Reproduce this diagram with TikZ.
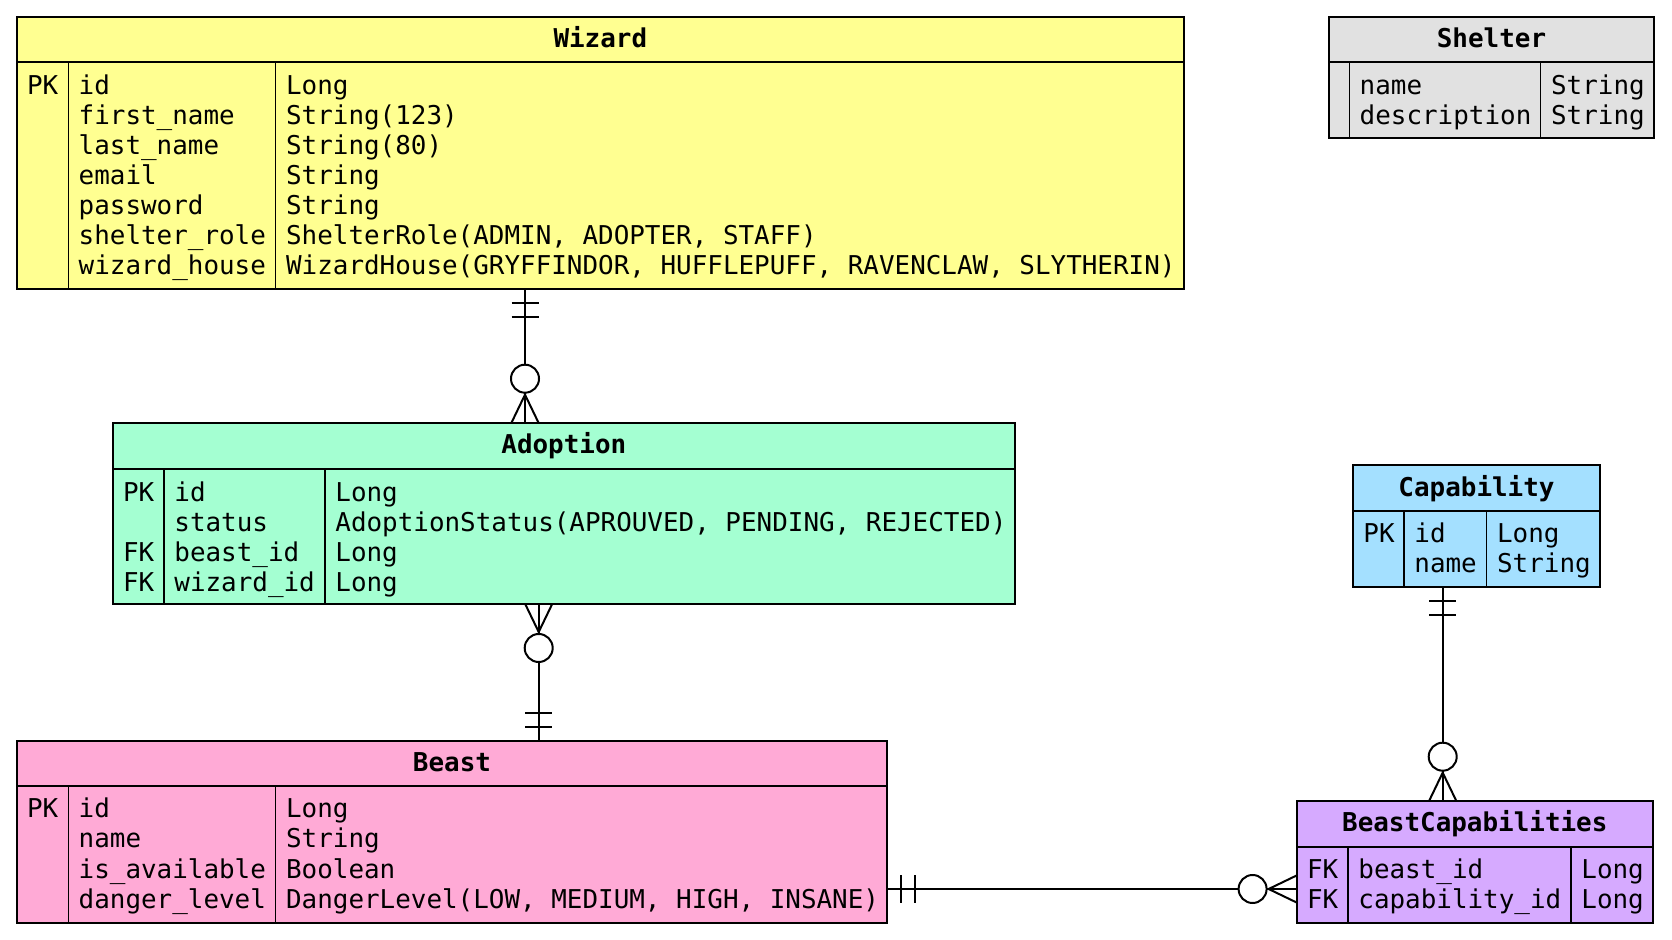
\documentclass[tikz,border=0pt]{standalone}
\usepackage{fontspec}
\newfontfamily\ermono{DejaVu Sans Mono}
\usetikzlibrary{fit,calc}

\definecolor{wizardfill}{HTML}{FFFF91}
\definecolor{adoptionfill}{HTML}{A4FFD2}
\definecolor{beastfill}{HTML}{FFAAD6}
\definecolor{capabilityfill}{HTML}{A4E0FF}
\definecolor{beastcapfill}{HTML}{D6AAFF}
\definecolor{shelterfill}{HTML}{E1E1E1}

\tikzset{
  erbox/.style={draw=black, line width=1pt, inner sep=0pt, outer sep=0pt},
  colline/.style={draw=black, line width=0.6pt},
  hdline/.style={draw=black, line width=1pt},
  cell/.style={inner sep=0pt, anchor=base west, font=\ermono\fontsize{12.96}{15}\selectfont},
  ertitle/.style={inner sep=0pt, anchor=base, font=\ermono\bfseries\fontsize{12.96}{15}\selectfont},
  rel/.style={draw=black, line width=1pt},
}

% entity box: #1 name, #2 fill, #3 left, #4 top, #5 key column right,
% #6 name column right, #7 right, #8 header bottom, #9 bottom
\newcommand{\erentity}[9]{%
  \node[erbox, fill=#2, fit={(#3,#4) (#7,#9)}] (#1) {};
  \draw[hdline] (#3,#8) -- (#7,#8);
  \draw[colline] (#5,#8) -- (#5,#9);
  \draw[colline] (#6,#8) -- (#6,#9);
}
% one column of cells: #1 name prefix, #2 x, #3 first baseline, #4 entries
\newcommand{\ercol}[4]{%
  \foreach \t [count=\i from 0] in {#4}
    \node[cell] (#1-\i) at (#2,{#3+30*\i}) {\t};
}
% "exactly one" bars on a vertical connector: #1 edge point, #2 +1 down / -1 up
\newcommand{\barsV}[2]{%
  \draw[rel] ($(#1)+(-13.5,14*#2)$) -- ++(27,0);
  \draw[rel] ($(#1)+(-13.5,28*#2)$) -- ++(27,0);
}
% "zero or many" crow's foot on a vertical connector
\newcommand{\crowV}[2]{%
  \draw[rel] ($(#1)+(-13.5,0)$) -- ($(#1)+(0,28*#2)$) -- ($(#1)+(13.5,0)$);
  \draw[rel, fill=white] ($(#1)+(0,44*#2)$) circle[radius=7pt];
}
% horizontal versions: #2 +1 right / -1 left
\newcommand{\barsH}[2]{%
  \draw[rel] ($(#1)+(14*#2,-13.5)$) -- ++(0,27);
  \draw[rel] ($(#1)+(28*#2,-13.5)$) -- ++(0,27);
}
\newcommand{\crowH}[2]{%
  \draw[rel] ($(#1)+(0,-13.5)$) -- ($(#1)+(28*#2,0)$) -- ($(#1)+(0,13.5)$);
  \draw[rel, fill=white] ($(#1)+(44*#2,0)$) circle[radius=7pt];
}

\begin{document}
\begin{tikzpicture}[x=0.5pt, y=-0.5pt]
\useasboundingbox (0,0) rectangle (1672,940);

% ---------- connectors (drawn first, boxes cover their ends) ----------
\coordinate (xwa) at (525,0);
\coordinate (xab) at (538.7,0);
\coordinate (xcb) at (1442.7,0);
\coordinate (ybb) at (0,889);

% ---------- Wizard ----------
\erentity{wizard}{wizardfill}{16.7}{16.7}{68.3}{275.7}{1184}{62.3}{288.7}
\node[ertitle] (wizard-title) at ({(16.7+1184)/2},48) {Wizard};
\ercol{wizard-k}{26.7}{94.3}{PK}
\ercol{wizard-n}{78.3}{94.3}{id,first\_name,last\_name,email,password,shelter\_role,wizard\_house}
\ercol{wizard-t}{285.7}{94.3}{Long,String(123),String(80),String,String,{ShelterRole(ADMIN, ADOPTER, STAFF)},{WizardHouse(GRYFFINDOR, HUFFLEPUFF, RAVENCLAW, SLYTHERIN)}}

% ---------- Shelter ----------
\erentity{shelter}{shelterfill}{1329}{16.7}{1349.3}{1540.7}{1654}{62.3}{138.3}
\node[ertitle] (shelter-title) at ({(1329+1654)/2},48) {Shelter};
\ercol{shelter-n}{1359.3}{94.3}{name,description}
\ercol{shelter-t}{1550.7}{94.3}{String,String}

% ---------- Adoption ----------
\erentity{adoption}{adoptionfill}{112.7}{422.7}{164}{325}{1015}{469.3}{604}
\node[ertitle] (adoption-title) at ({(112.7+1015)/2},454) {Adoption};
\ercol{adoption-k}{122.7}{501.3}{PK,{},FK,FK}
\ercol{adoption-n}{174}{501.3}{id,status,beast\_id,wizard\_id}
\ercol{adoption-t}{335}{501.3}{Long,{AdoptionStatus(APROUVED, PENDING, REJECTED)},Long,Long}

% ---------- Capability ----------
\erentity{capability}{capabilityfill}{1353}{465}{1404}{1486.7}{1600}{511}{586.7}
\node[ertitle] (capability-title) at ({(1353+1600)/2},496.5) {Capability};
\ercol{capability-k}{1363}{543}{PK}
\ercol{capability-n}{1414}{543}{id,name}
\ercol{capability-t}{1496.7}{543}{Long,String}

% ---------- Beast ----------
\erentity{beast}{beastfill}{16.7}{741}{68.3}{275.7}{887.3}{786}{922.7}
\node[ertitle] (beast-title) at ({(16.7+887.3)/2},772) {Beast};
\ercol{beast-k}{26.7}{818}{PK}
\ercol{beast-n}{78.3}{818}{id,name,is\_available,danger\_level}
\ercol{beast-t}{285.7}{818}{Long,String,Boolean,{DangerLevel(LOW, MEDIUM, HIGH, INSANE)}}

% ---------- BeastCapabilities ----------
\erentity{beastcap}{beastcapfill}{1296.6}{800.7}{1348}{1571}{1653}{846.7}{922.7}
\node[ertitle] (beastcap-title) at ({(1296.6+1653)/2},832) {BeastCapabilities};
\ercol{beastcap-k}{1306.6}{878.7}{FK,FK}
\ercol{beastcap-n}{1358}{878.7}{beast\_id,capability\_id}
\ercol{beastcap-t}{1581}{878.7}{Long,Long}

% ---------- relationships ----------
% Wizard 1 -- 0..n Adoption
\draw[rel] (wizard.south -| xwa) -- (adoption.north -| xwa);
\barsV{wizard.south -| xwa}{1}
\crowV{adoption.north -| xwa}{-1}

% Adoption 0..n -- 1 Beast
\draw[rel] (adoption.south -| xab) -- (beast.north -| xab);
\crowV{adoption.south -| xab}{1}
\barsV{beast.north -| xab}{-1}

% Capability 1 -- 0..n BeastCapabilities
\draw[rel] (capability.south -| xcb) -- (beastcap.north -| xcb);
\barsV{capability.south -| xcb}{1}
\crowV{beastcap.north -| xcb}{-1}

% Beast 1 -- 0..n BeastCapabilities
\draw[rel] (beast.east |- ybb) -- (beastcap.west |- ybb);
\barsH{beast.east |- ybb}{1}
\crowH{beastcap.west |- ybb}{-1}
\end{tikzpicture}
\end{document}
